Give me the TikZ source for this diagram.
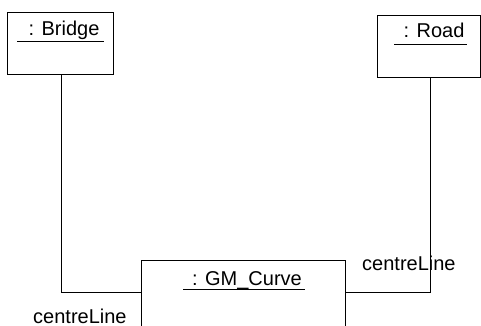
\documentclass[tikz,border=0pt]{standalone}
\usepackage{fontspec}
\setmainfont{Liberation Sans}
\begin{document}
\begin{tikzpicture}[x=1pt,y=-1pt,
  objbox/.style={draw=black,line width=0.9pt,rectangle,anchor=north west,inner sep=0pt},
  objname/.style={inner sep=0pt,anchor=base,font=\fontsize{20}{24}\selectfont},
  rolename/.style={inner sep=0pt,anchor=base west,font=\fontsize{20}{24}\selectfont},
  uline/.style={line width=0.9pt},
  link/.style={draw=black,line width=0.9pt}]
\useasboundingbox (0,0) rectangle (481,326);
\clip (0,0) rectangle (481,326);
\fill[white] (0,0) rectangle (481,326);

% object boxes
\node[objbox,minimum width=106pt,minimum height=62pt] (bridge) at (7,12) {};
\node[objbox,minimum width=103pt,minimum height=62pt] (road) at (377,15) {};
\node[objbox,minimum width=204pt,minimum height=90pt] (curve) at (141,260) {};

% object names, underlined
\node[objname] (bridgename) at (64,36) {: Bridge};
\node[objname] (roadname) at (434,38) {: Road};
\node[objname] (curvename) at (247,285) {: GM\_Curve};
\draw[uline] (17,41) -- (104,41);
\draw[uline] (394,44) -- (467,44);
\draw[uline] (183,289) -- (305,289);

% links
\draw[link] ([xshift=1pt]bridge.south) |- ([yshift=-32pt]curve.north west);
\draw[link] ([xshift=1.5pt]road.south) |- ([yshift=-32pt]curve.north east);

% role names
\node[rolename] (roleright) at (362,270) {centreLine};
\node[rolename] (roleleft) at (33,323) {centreLine};
\end{tikzpicture}
\end{document}
